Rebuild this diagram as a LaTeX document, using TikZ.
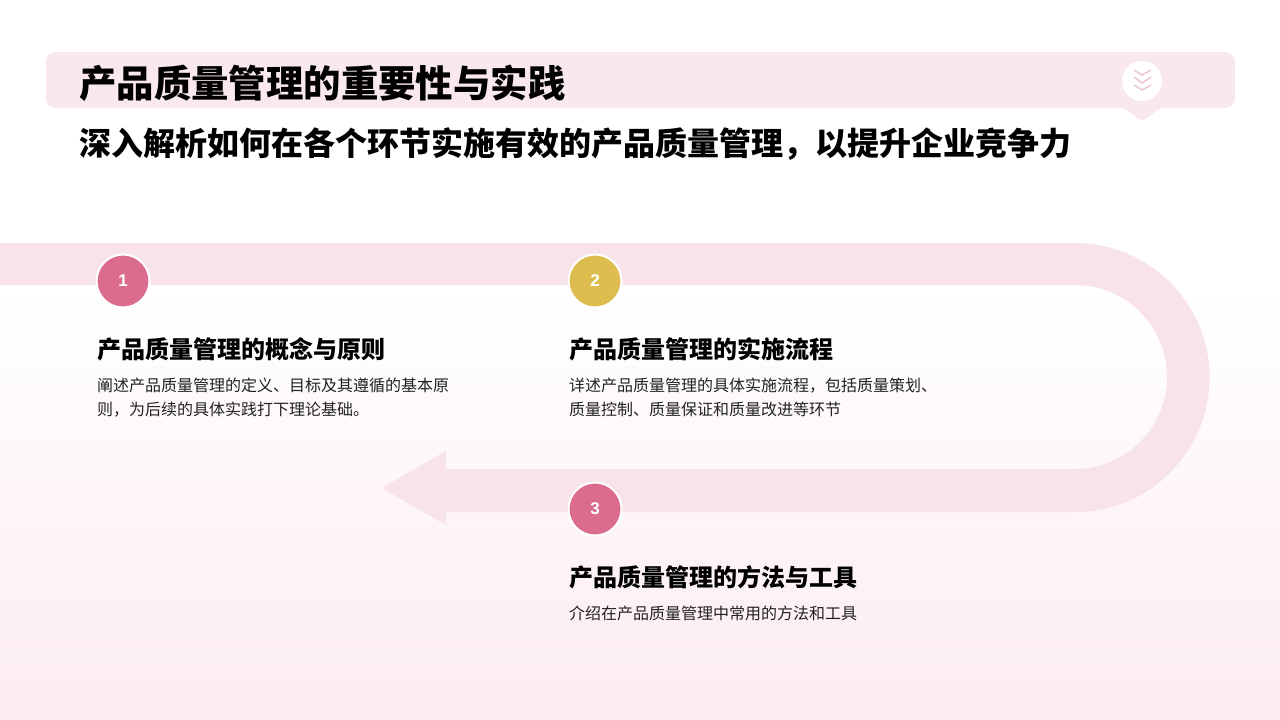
\documentclass[tikz,border=0pt]{standalone}
\usepackage{fontspec}
\usepackage{tikz}
\usetikzlibrary{shapes,arrows}
\setmainfont{Liberation Sans}
\newfontfamily\cjk{Noto Sans CJK SC}
\definecolor{bandpink}{HTML}{F7E3E8}
\definecolor{bghigh}{HTML}{FFFFFF}
\definecolor{bglow}{HTML}{FCECF1}
\definecolor{headpink}{HTML}{F9E8EC}
\definecolor{chevpink}{HTML}{E8C6D2}
\definecolor{rosedot}{HTML}{DB6C8D}
\definecolor{golddot}{HTML}{DCBD4E}
\definecolor{bodyink}{HTML}{222222}
\tikzset{
  title/.style={anchor=west,inner sep=0pt,font=\cjk\bfseries\fontsize{37.4}{40}\selectfont},
  subtitle/.style={anchor=west,inner sep=0pt,font=\cjk\bfseries\fontsize{32}{34}\selectfont},
  heading/.style={anchor=west,inner sep=0pt,font=\cjk\bfseries\fontsize{24}{28}\selectfont},
  body/.style={anchor=north west,inner sep=0pt,align=left,text=bodyink,font=\cjk\fontsize{16}{24}\selectfont},
  dot/.style={circle,draw=white,line width=2pt,minimum size=53pt,inner sep=0pt,text=white,font=\bfseries\fontsize{17}{20}\selectfont},
  chev/.style={draw=chevpink,line width=1.5pt}
}
\begin{document}
\begin{tikzpicture}[x=1pt,y=-1pt]
  \useasboundingbox (0,0) rectangle (1280,720);
  \fill[white] (0,0) rectangle (1280,720);
  \shade[top color=bghigh,bottom color=bglow] (0,285) rectangle (1280,720);

  \fill[bandpink] (0,243) -- (1075,243)
    arc[start angle=-90,end angle=90,radius=134.5] -- (446,512) -- (446,525)
    -- (382,488) -- (446,451) -- (446,469) -- (1075,469)
    arc[start angle=90,end angle=-90,radius=92] -- (0,285) -- cycle;

  \fill[headpink,rounded corners=10pt] (46,52) rectangle (1235,108);
  \fill[headpink] (1122,107) -- (1162,107) -- (1145,119) -- (1142,120) -- (1139,119) -- cycle;
  \node[circle,fill=white,minimum size=40pt,inner sep=0pt] (badge) at (1142,81) {};
  \draw[chev] (1134,70) -- (1142,75) -- (1151,70);
  \draw[chev] (1134,77) -- (1142,83) -- (1151,77);
  \draw[chev] (1134,85) -- (1142,90) -- (1151,85);

  \node[title]    (maintitle) at (79,83)   {产品质量管理的重要性与实践};
  \node[subtitle] (subline)   at (79,144)  {深入解析如何在各个环节实施有效的产品质量管理，以提升企业竞争力};

  \node[dot,fill=rosedot] (one)   at (123,281) {1};
  \node[dot,fill=golddot] (two)   at (595,281) {2};
  \node[dot,fill=rosedot] (three) at (595,509) {3};

  \node[heading] (headone)   at (97,349)  {产品质量管理的概念与原则};
  \node[heading] (headtwo)   at (569,349) {产品质量管理的实施流程};
  \node[heading] (headthree) at (569,577) {产品质量管理的方法与工具};

  \node[body] (bodyone)   at (97,378)  {阐述产品质量管理的定义、目标及其遵循的基本原\\则，为后续的具体实践打下理论基础。};
  \node[body] (bodytwo)   at (569,378) {详述产品质量管理的具体实施流程，包括质量策划、\\质量控制、质量保证和质量改进等环节};
  \node[body] (bodythree) at (569,606) {介绍在产品质量管理中常用的方法和工具};
\end{tikzpicture}
\end{document}
